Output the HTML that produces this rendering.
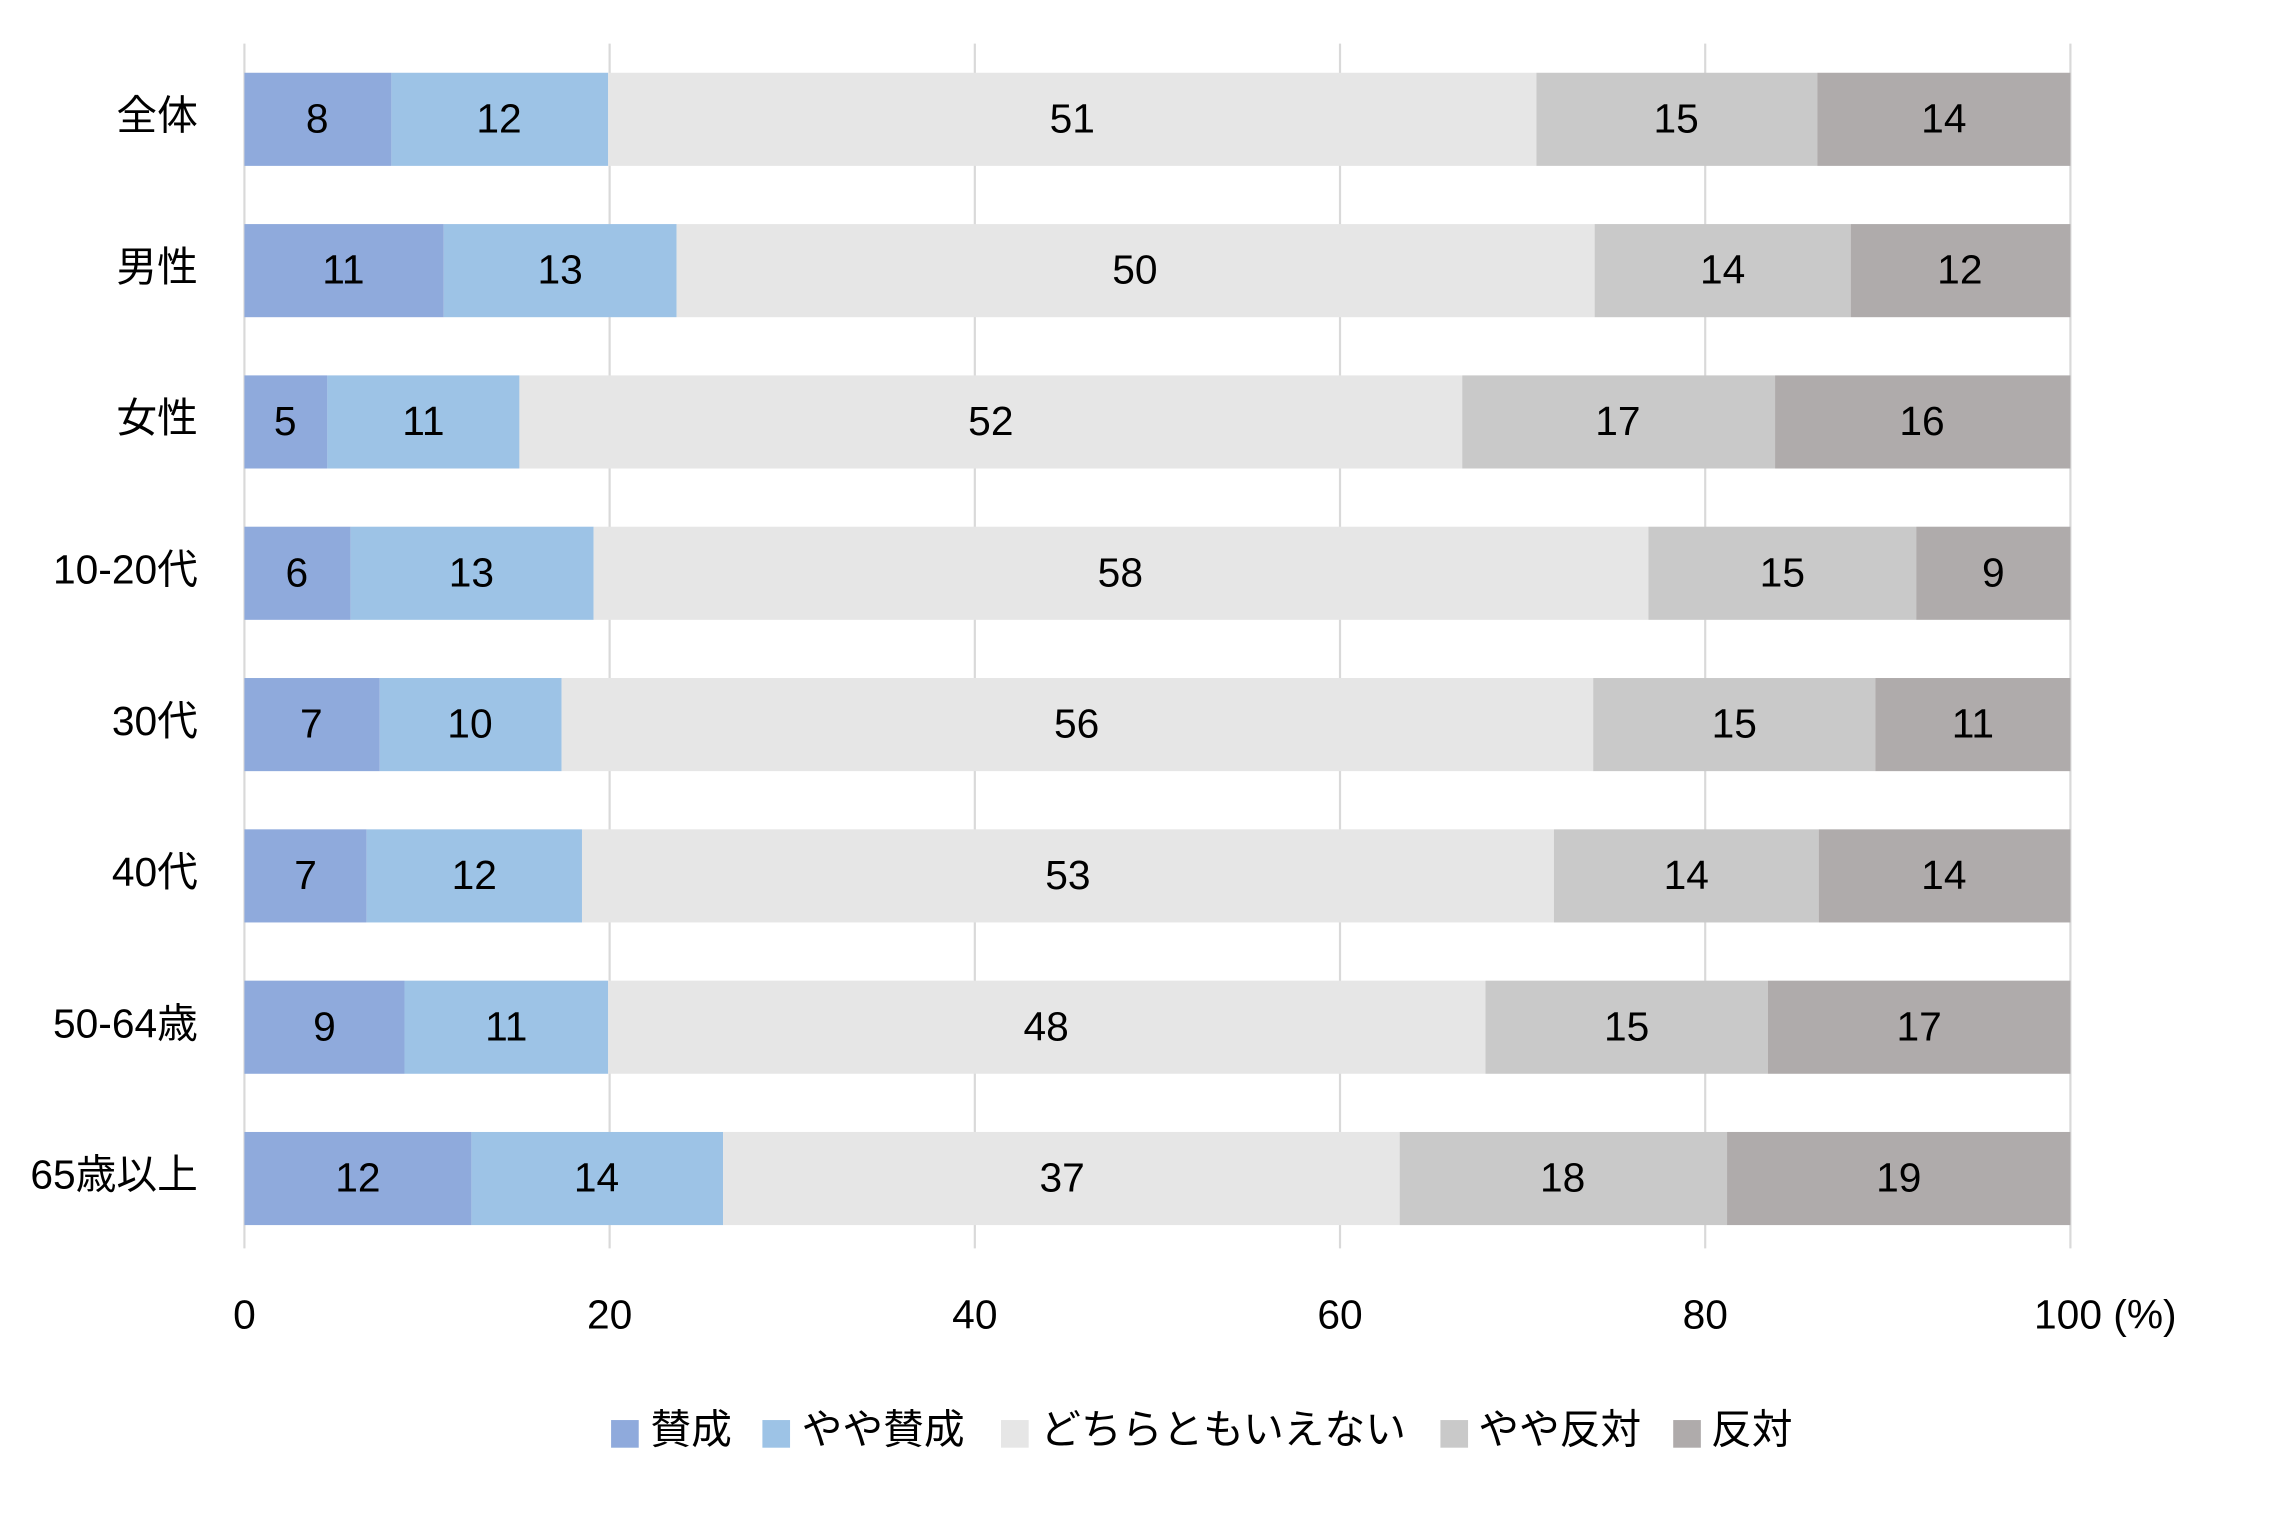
<!DOCTYPE html>
<html><head><meta charset="utf-8"><style>
html,body{margin:0;padding:0;background:#fff;}
svg{display:block;}
text{font-family:"Liberation Sans","Noto Sans CJK JP",sans-serif;fill:#000;}
</style></head><body>
<svg width="2284" height="1519" viewBox="0 0 1569.8 1044" xmlns="http://www.w3.org/2000/svg">
<g stroke="#D9D9D9" stroke-width="1.5">
<line x1="168" y1="30" x2="168" y2="858"/><line x1="419" y1="30" x2="419" y2="858"/>
<line x1="670" y1="30" x2="670" y2="858"/><line x1="921" y1="30" x2="921" y2="858"/>
<line x1="1172" y1="30" x2="1172" y2="858"/><line x1="1423" y1="30" x2="1423" y2="858"/>
</g>
<g>
<rect x="168" y="50" width="101" height="64" fill="#8FAADC"/><rect x="269" y="50" width="149" height="64" fill="#9DC3E6"/><rect x="418" y="50" width="638" height="64" fill="#E6E6E6"/><rect x="1056" y="50" width="193" height="64" fill="#C9C9C9"/><rect x="1249" y="50" width="174" height="64" fill="#AFABAB"/>
<rect x="168" y="154" width="137" height="64" fill="#8FAADC"/><rect x="305" y="154" width="160" height="64" fill="#9DC3E6"/><rect x="465" y="154" width="631" height="64" fill="#E6E6E6"/><rect x="1096" y="154" width="176" height="64" fill="#C9C9C9"/><rect x="1272" y="154" width="151" height="64" fill="#AFABAB"/>
<rect x="168" y="258" width="57" height="64" fill="#8FAADC"/><rect x="225" y="258" width="132" height="64" fill="#9DC3E6"/><rect x="357" y="258" width="648" height="64" fill="#E6E6E6"/><rect x="1005" y="258" width="215" height="64" fill="#C9C9C9"/><rect x="1220" y="258" width="203" height="64" fill="#AFABAB"/>
<rect x="168" y="362" width="73" height="64" fill="#8FAADC"/><rect x="241" y="362" width="167" height="64" fill="#9DC3E6"/><rect x="408" y="362" width="725" height="64" fill="#E6E6E6"/><rect x="1133" y="362" width="184" height="64" fill="#C9C9C9"/><rect x="1317" y="362" width="106" height="64" fill="#AFABAB"/>
<rect x="168" y="466" width="93" height="64" fill="#8FAADC"/><rect x="261" y="466" width="125" height="64" fill="#9DC3E6"/><rect x="386" y="466" width="709" height="64" fill="#E6E6E6"/><rect x="1095" y="466" width="194" height="64" fill="#C9C9C9"/><rect x="1289" y="466" width="134" height="64" fill="#AFABAB"/>
<rect x="168" y="570" width="84" height="64" fill="#8FAADC"/><rect x="252" y="570" width="148" height="64" fill="#9DC3E6"/><rect x="400" y="570" width="668" height="64" fill="#E6E6E6"/><rect x="1068" y="570" width="182" height="64" fill="#C9C9C9"/><rect x="1250" y="570" width="173" height="64" fill="#AFABAB"/>
<rect x="168" y="674" width="110" height="64" fill="#8FAADC"/><rect x="278" y="674" width="140" height="64" fill="#9DC3E6"/><rect x="418" y="674" width="603" height="64" fill="#E6E6E6"/><rect x="1021" y="674" width="194" height="64" fill="#C9C9C9"/><rect x="1215" y="674" width="208" height="64" fill="#AFABAB"/>
<rect x="168" y="778" width="156" height="64" fill="#8FAADC"/><rect x="324" y="778" width="173" height="64" fill="#9DC3E6"/><rect x="497" y="778" width="465" height="64" fill="#E6E6E6"/><rect x="962" y="778" width="225" height="64" fill="#C9C9C9"/><rect x="1187" y="778" width="236" height="64" fill="#AFABAB"/>
</g>
<g font-size="28" text-anchor="middle">
<text x="218" y="91">8</text><text x="343" y="91">12</text><text x="737" y="91">51</text><text x="1152" y="91">15</text><text x="1336" y="91">14</text>
<text x="236" y="195">11</text><text x="385" y="195">13</text><text x="780" y="195">50</text><text x="1184" y="195">14</text><text x="1347" y="195">12</text>
<text x="196" y="299">5</text><text x="291" y="299">11</text><text x="681" y="299">52</text><text x="1112" y="299">17</text><text x="1321" y="299">16</text>
<text x="204" y="403">6</text><text x="324" y="403">13</text><text x="770" y="403">58</text><text x="1225" y="403">15</text><text x="1370" y="403">9</text>
<text x="214" y="507">7</text><text x="323" y="507">10</text><text x="740" y="507">56</text><text x="1192" y="507">15</text><text x="1356" y="507">11</text>
<text x="210" y="611">7</text><text x="326" y="611">12</text><text x="734" y="611">53</text><text x="1159" y="611">14</text><text x="1336" y="611">14</text>
<text x="223" y="715">9</text><text x="348" y="715">11</text><text x="719" y="715">48</text><text x="1118" y="715">15</text><text x="1319" y="715">17</text>
<text x="246" y="819">12</text><text x="410" y="819">14</text><text x="730" y="819">37</text><text x="1074" y="819">18</text><text x="1305" y="819">19</text>
</g>
<g font-size="28" text-anchor="end">
<text x="136" y="89">全体</text><text x="136" y="193">男性</text><text x="136" y="297">女性</text>
<text x="136" y="401">10-20代</text><text x="136" y="505">30代</text><text x="136" y="609">40代</text>
<text x="136" y="713">50-64歳</text><text x="136" y="817">65歳以上</text>
</g>
<g font-size="28" text-anchor="middle">
<text x="168" y="913">0</text><text x="419" y="913">20</text><text x="670" y="913">40</text>
<text x="921" y="913">60</text><text x="1172" y="913">80</text>
</g>
<text x="1398" y="913" font-size="28">100 (%)</text>
<g font-size="28">
<rect x="420" y="976" width="19" height="19" fill="#8FAADC"/><text x="447" y="992">賛成</text>
<rect x="524" y="976" width="19" height="19" fill="#9DC3E6"/><text x="551" y="992">やや賛成</text>
<rect x="688" y="976" width="19" height="19" fill="#E6E6E6"/><text x="715" y="992">どちらともいえない</text>
<rect x="990" y="976" width="19" height="19" fill="#C9C9C9"/><text x="1016" y="992">やや反対</text>
<rect x="1150" y="976" width="19" height="19" fill="#AFABAB"/><text x="1176" y="992">反対</text>
</g>
</svg>
</body></html>
